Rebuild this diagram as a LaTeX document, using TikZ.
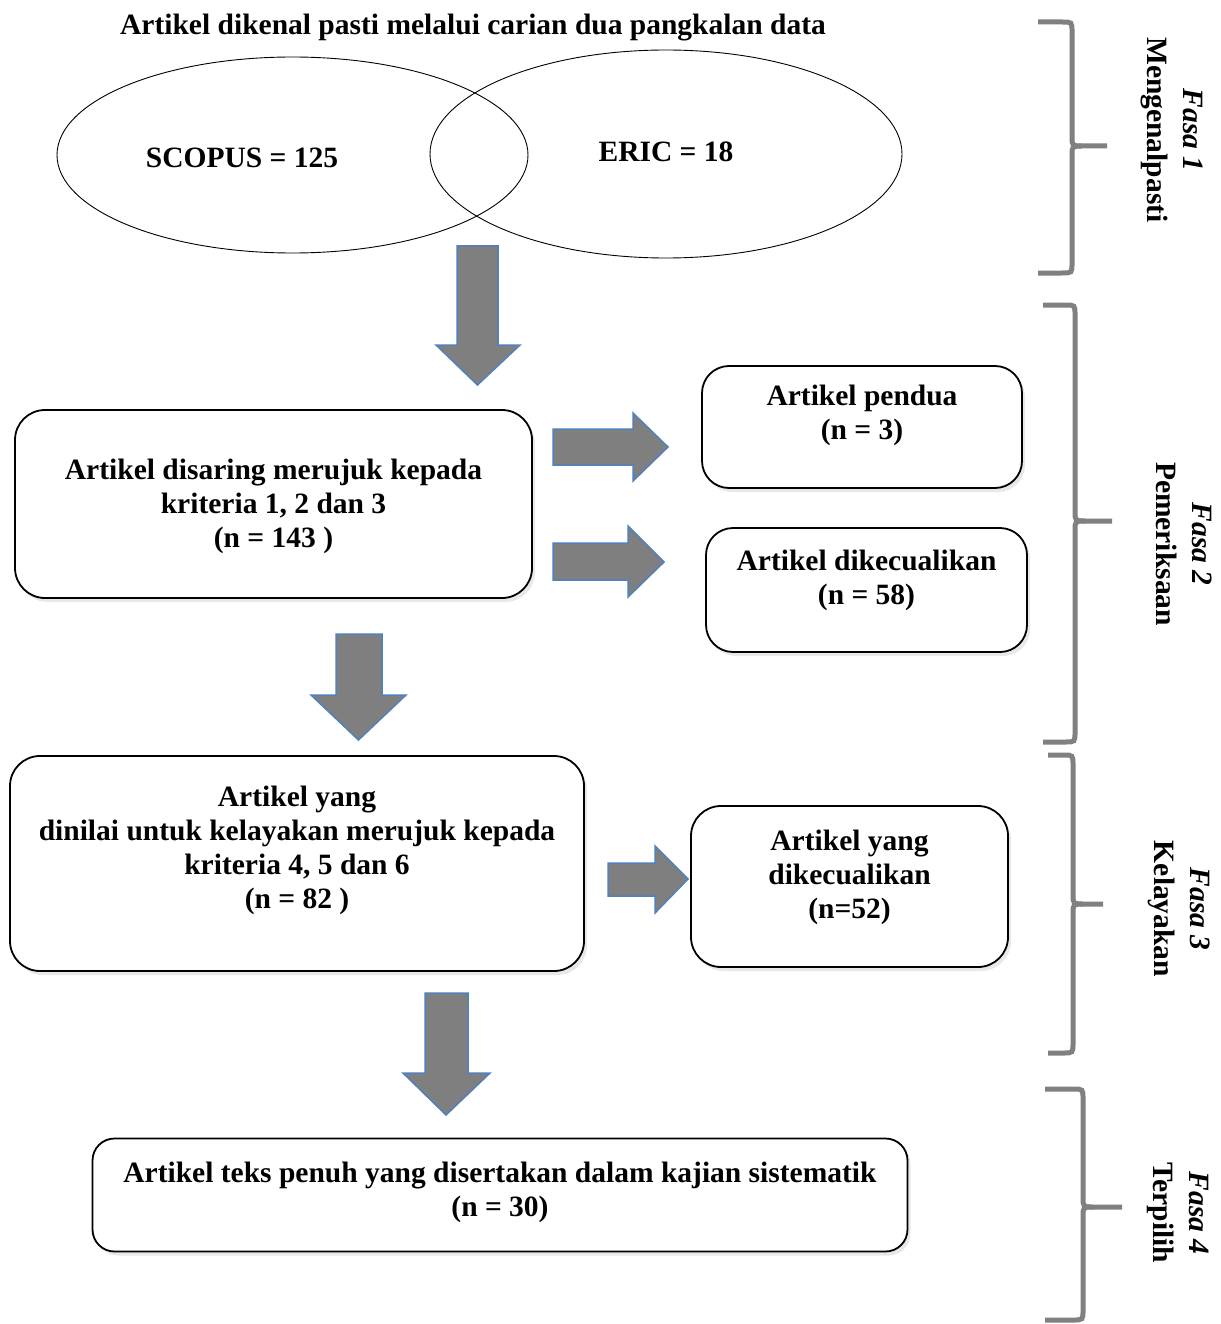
\documentclass[tikz,border=0pt]{standalone}
\usepackage{fontspec}
\setmainfont{Liberation Serif}
\usetikzlibrary{shapes.geometric,shadows}
\definecolor{arrfill}{RGB}{127,127,127}
\definecolor{arrline}{RGB}{79,129,189}
\definecolor{bracecol}{RGB}{128,128,128}
\tikzset{
  txt/.style={font=\fontsize{29.5}{34}\selectfont\bfseries, align=center, inner sep=0pt},
  rbox/.style={draw=black, line width=1.8pt, rounded corners=30pt, fill=white, inner sep=0pt,
    drop shadow={opacity=0.18, shadow xshift=3pt, shadow yshift=-4pt}},
  venn/.style={ellipse, draw=black, line width=0.9pt, inner sep=0pt},
  fatarrow/.style={fill=arrfill, draw=arrline, line width=1.5pt, line join=miter},
  phasebrace/.style={draw=bracecol, line width=5pt, line cap=butt},
  phaselbl/.style={font=\fontsize{29.5}{36}\selectfont\bfseries, align=center, rotate=-90, inner sep=0pt}
}
\newcommand\phbrace[6]{% T B M E S P
  \draw[phasebrace] (#4,#1) -- ({#5-10},#1) .. controls (#5,#1) .. (#5,{#1+10}) -- (#5,{#3-10}) .. controls (#5,#3) .. ({#5+10},#3) -- (#6,#3);
  \draw[phasebrace] ({#5+10},#3) .. controls (#5,#3) .. (#5,{#3+10}) -- (#5,{#2-10}) .. controls (#5,#2) .. ({#5-10},#2) -- (#4,#2);
}
\begin{document}
\begin{tikzpicture}[x=1pt,y=-1pt]
\useasboundingbox (0,0) rectangle (1220,1324);
\fill[white] (0,0) rectangle (1220,1324);

% title
\node[txt] (title) at (473,28) {Artikel dikenal pasti melalui carian dua pangkalan data};

% venn
\node[venn, minimum width=471pt, minimum height=196pt] (scopus) at (292.5,155) {};
\node[venn, minimum width=472pt, minimum height=208pt] (eric) at (666,154) {};
\node[txt] (scopust) at (242,158) {SCOPUS = 125};
\node[txt] (erict) at (666,152) {ERIC = 18};

% boxes
\node[rbox, minimum width=517pt, minimum height=188pt] (b1) at (273.5,504) {};
\node[txt] (b1t) at (273.5,506) {Artikel disaring merujuk kepada\\kriteria 1, 2 dan 3\\(n = 143 )};

\node[rbox, rounded corners=27pt, minimum width=320pt, minimum height=122pt] (b2) at (862,427) {};
\node[txt] (b2t) at (862,415) {Artikel pendua\\(n = 3)};

\node[rbox, rounded corners=27pt, minimum width=321pt, minimum height=124pt] (b3) at (866.5,590) {};
\node[txt] (b3t) at (866.5,580) {Artikel dikecualikan\\(n = 58)};

\node[rbox, minimum width=574pt, minimum height=215pt] (b4) at (297,863.5) {};
\node[txt] (b4t) at (297,850) {Artikel yang\\dinilai untuk kelayakan merujuk kepada\\kriteria 4, 5 dan 6\\(n = 82 )};

\node[rbox, minimum width=317pt, minimum height=161pt] (b5) at (849.5,886.5) {};
\node[txt] (b5t) at (849.5,877) {Artikel yang\\dikecualikan\\(n=52)};

\node[rbox, rounded corners=22pt, minimum width=815pt, minimum height=113pt] (b6) at (500,1195) {};
\node[txt] (b6t) at (500,1192) {Artikel teks penuh yang disertakan dalam kajian sistematik\\(n = 30)};

% fat arrows (down)
\draw[fatarrow] (457,246) -- (498,246) -- (498,345) -- (520,345) -- (477.5,385) -- (436,345) -- (457,345) -- cycle;
\draw[fatarrow] (336,634) -- (382,634) -- (382,695) -- (406,695) -- (358.5,740) -- (311,695) -- (336,695) -- cycle;
\draw[fatarrow] (425,993) -- (468,993) -- (468,1073) -- (490,1073) -- (446,1115) -- (403,1073) -- (425,1073) -- cycle;
% fat arrows (right)
\draw[fatarrow] (553,429) -- (633,429) -- (633,413) -- (668,447) -- (633,481) -- (633,465) -- (553,465) -- cycle;
\draw[fatarrow] (553,543) -- (628,543) -- (628,526) -- (664,562) -- (628,597) -- (628,580) -- (553,580) -- cycle;
\draw[fatarrow] (608,863) -- (655,863) -- (655,846) -- (688,879) -- (655,913) -- (655,896) -- (608,896) -- cycle;

% braces
\phbrace{22}{273}{146}{1038}{1072}{1107}
\phbrace{305}{742}{521}{1043}{1075}{1112}
\phbrace{755}{1053}{904}{1048}{1073}{1103}
\phbrace{1089}{1320}{1207}{1045}{1083}{1122}

\node[phaselbl] (f1) at (1172,130) {\textit{Fasa 1}\\Mengenalpasti};
\node[phaselbl] (f2) at (1184,544) {\textit{Fasa 2}\\Pemeriksaan};
\node[phaselbl] (f3) at (1179,909) {\textit{Fasa 3}\\Kelayakan};
\node[phaselbl] (f4) at (1178,1213) {\textit{Fasa 4}\\Terpilih};
\end{tikzpicture}
\end{document}
